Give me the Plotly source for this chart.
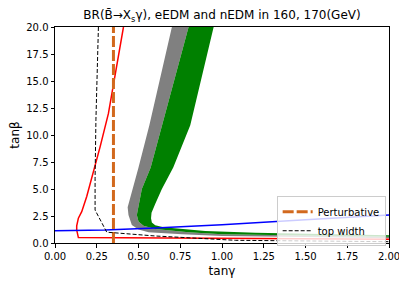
import plotly.graph_objects as go

# gray band boundaries (left edge, then inner edge)
gray_left_x = [0.70, 0.565, 0.50, 0.465, 0.445, 0.435, 0.44, 0.46, 0.50, 0.56, 0.76, 1.0, 1.5, 2.0]
gray_left_y = [20.0, 10.9, 7.0, 5.0, 4.0, 3.3, 2.6, 1.67, 1.25, 1.0, 0.8, 0.65, 0.55, 0.45]
mid_x = [0.80, 0.64, 0.573, 0.52, 0.50, 0.49, 0.50, 0.53, 0.60, 0.80, 1.0, 1.5, 2.0]
mid_y = [20.0, 10.9, 7.0, 5.0, 3.5, 2.6, 2.0, 1.6, 1.3, 1.0, 0.8, 0.68, 0.58]
green_right_x = [0.95, 0.81, 0.708, 0.64, 0.60, 0.578, 0.575, 0.58, 0.60, 0.65, 0.9, 1.2, 1.6, 2.0]
green_right_y = [20.0, 10.9, 7.0, 5.0, 3.6, 2.8, 2.3, 1.9, 1.65, 1.45, 1.1, 0.95, 0.82, 0.72]

# red line (BR constraint)
red_x = [0.41, 0.36, 0.32, 0.27, 0.23, 0.19, 0.16, 0.14, 0.13, 0.13, 0.14, 1.0, 2.0]
red_y = [20.0, 15.4, 12.0, 8.9, 6.5, 4.3, 2.9, 2.3, 1.6, 1.2, 0.5, 0.42, 0.35]

# top width (black dashed)
tw_x = [0.26, 0.25, 0.245, 0.24, 0.24, 0.31, 0.45, 0.60, 1.08, 2.0]
tw_y = [20.0, 15.0, 11.4, 6.0, 3.05, 1.0, 0.85, 0.65, 0.25, 0.12]

# blue line (EDM)
blue_x = [0.0, 0.3, 0.6, 1.0, 1.5, 2.0]
blue_y = [1.14, 1.2, 1.4, 1.7, 2.15, 2.6]

# perturbative limit
pert_x = [0.35, 0.35]
pert_y = [0.0, 20.0]

x_ticks = [0.0, 0.25, 0.5, 0.75, 1.0, 1.25, 1.5, 1.75, 2.0]
x_ticklabels = ["0.00", "0.25", "0.50", "0.75", "1.00", "1.25", "1.50", "1.75", "2.00"]
y_ticks = [0.0, 2.5, 5.0, 7.5, 10.0, 12.5, 15.0, 17.5, 20.0]
y_ticklabels = ["0.0", "2.5", "5.0", "7.5", "10.0", "12.5", "15.0", "17.5", "20.0"]

fig = go.Figure()

fig.add_trace(go.Scatter(
    x=gray_left_x + mid_x[::-1], y=gray_left_y + mid_y[::-1],
    fill="toself", fillcolor="gray", line=dict(width=0), mode="lines",
    showlegend=False, hoverinfo="skip"))
fig.add_trace(go.Scatter(
    x=mid_x + green_right_x[::-1], y=mid_y + green_right_y[::-1],
    fill="toself", fillcolor="green", line=dict(width=0), mode="lines",
    showlegend=False, hoverinfo="skip"))

fig.add_trace(go.Scatter(x=red_x, y=red_y, mode="lines",
                         line=dict(color="red", width=1.5), showlegend=False))
fig.add_trace(go.Scatter(x=blue_x, y=blue_y, mode="lines",
                         line=dict(color="blue", width=1.5), showlegend=False))
fig.add_trace(go.Scatter(x=pert_x, y=pert_y, mode="lines", name="Perturbative",
                         line=dict(color="#d2691e", width=3, dash="11px,3px")))
fig.add_trace(go.Scatter(x=tw_x, y=tw_y, mode="lines", name="top width",
                         line=dict(color="black", width=1, dash="4px,2px")))

# page body has an 8px default margin, so the figure is offset by 8px
W, H = 399, 278
font = "DejaVu Sans, sans-serif"
fig.update_layout(
    template="none",
    width=W, height=H,
    margin=dict(l=47, r=18, t=19, b=43, autoexpand=False),
    paper_bgcolor="white", plot_bgcolor="white",
    font=dict(family=font, size=10, color="black"),
    title=dict(text="BR(B\u0304\u2192X<sub>s</sub>\u03b3), eEDM and nEDM in 160, 170(GeV)",
               x=0.5, xref="paper", xanchor="center",
               y=1 - 7 / H, yref="container", yanchor="middle",
               font=dict(size=12, family=font)),
    legend=dict(x=0.99, y=-0.015, xanchor="right", yanchor="bottom",
                bgcolor="rgba(255,255,255,0.8)", bordercolor="#cccccc", borderwidth=1,
                font=dict(size=10), tracegroupgap=0, itemwidth=30),
    showlegend=True,
)
fig.update_xaxes(range=[0, 2], tickvals=x_ticks, ticktext=x_ticklabels, automargin=False,
                 showgrid=False, zeroline=False, showline=True, linecolor="black",
                 linewidth=1, mirror=True, ticks="outside", ticklen=3.5, tickcolor="black",
                 ticklabelstandoff=0,
                 title=dict(text="tan\u03b3", standoff=6))
fig.update_yaxes(range=[0, 20], tickvals=y_ticks, ticktext=y_ticklabels, automargin=False,
                 showgrid=False, zeroline=False, showline=True, linecolor="black",
                 linewidth=1, mirror=True, ticks="outside", ticklen=3.5, tickcolor="black",
                 title=dict(text="tan\u03b2", standoff=6))

fig.write_html("out.html")
